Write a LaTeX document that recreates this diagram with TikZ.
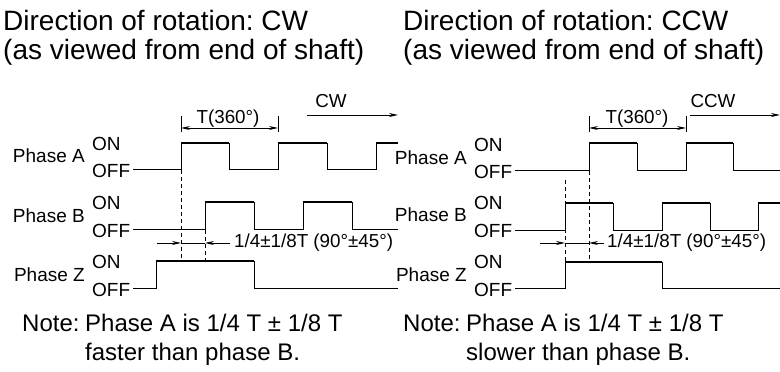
\documentclass[tikz,border=0pt]{standalone}
\usepackage{fontspec}
\setmainfont{Liberation Sans}
\usetikzlibrary{arrows.meta}
\frenchspacing
\tikzset{
  sig/.style={line width=1pt},
  hi/.style={line width=2.4pt},
  dsh/.style={line width=0.9pt, dash pattern=on 4pt off 3pt},
  dim/.style={line width=0.9pt},
  tip/.style={-{Stealth[length=9pt,width=4pt]}},
  lbl/.style={inner sep=0pt, font=\fontsize{19}{22}\selectfont},
  small/.style={inner sep=0pt, font=\fontsize{18.8}{21}\selectfont},
  ttl/.style={inner sep=0pt, font=\fontsize{28}{31}\selectfont},
  note/.style={inner sep=0pt, font=\fontsize{24}{30}\selectfont},
}
\begin{document}
\begin{tikzpicture}[x=1pt,y=1pt]
\useasboundingbox (0,0) rectangle (780,372);
% titles
\node[ttl,anchor=base west] (t1a) at (3,341) {Direction of rotation: CW};
\node[ttl,anchor=base west] (t1b) at (3,312) {(as viewed from end of shaft)};
\node[ttl,anchor=base west] (t2a) at (403,341) {Direction of rotation: CCW};
\node[ttl,anchor=base west] (t2b) at (403,312) {(as viewed from end of shaft)};

% ===== LEFT PANEL =====
\node[lbl,anchor=east] (lA) at (85,216) {Phase A};
\node[lbl,anchor=west] (lAon) at (92,228) {ON};
\node[lbl,anchor=west] (lAoff) at (92,201) {OFF};
\node[lbl,anchor=east] (lB) at (85,156) {Phase B};
\node[lbl,anchor=west] (lBon) at (92,169) {ON};
\node[lbl,anchor=west] (lBoff) at (92,141) {OFF};
\node[lbl,anchor=east] (lZ) at (85,97) {Phase Z};
\node[lbl,anchor=west] (lZon) at (92,110) {ON};
\node[lbl,anchor=west] (lZoff) at (92,82) {OFF};

% phase A
\draw[sig] (lAoff.east|-0,202) ++(3,0) -- (181,202) -- (181,229) (229,229) -- (229,202) -- (278,202) -- (278,229) (327,229) -- (327,202) -- (376,202) -- (376,229);
\draw[hi] (181,229) -- (229,229) (278,229) -- (327,229) (376,229) -- (398,229);
% phase B
\draw[sig] (lBoff.east|-0,142) ++(3,0) -- (205,142) -- (205,170) (254,170) -- (254,142) -- (303,142) -- (303,170) (352,170) -- (352,142) -- (398,142);
\draw[hi] (205,170) -- (254,170) (303,170) -- (352,170);
% phase Z
\draw[sig] (lZoff.east|-0,83) ++(3,0) -- (156,83) -- (156,111) (254,111) -- (254,83) -- (398,83);
\draw[hi] (156,111) -- (254,111);
% dashed
\draw[dsh] (181,202) -- (181,112);
\draw[dsh] (205,142) -- (205,112);
% phase difference
\coordinate (la1) at (157,129); \coordinate (la2) at (181,129);
\coordinate (lb1) at (230,129); \coordinate (lb2) at (205,129);
\draw[dim,tip] (la1) -- (la2);
\draw[dim,tip] (lb1) -- (lb2);
\draw[dim] (la2) -- (lb2);
\node[small,anchor=west] (lph) at (234,129) {1/4±1/8T (90°±45°)};
% period
\coordinate (lp1) at (181,244); \coordinate (lp2) at (278,244);
\draw[dim] (181,240) -- (181,256) (278,240) -- (278,256);
\draw[dim,{Stealth[length=9pt,width=4pt]}-{Stealth[length=9pt,width=4pt]}] (lp1) -- (lp2);
\node[small,anchor=base] (lT) at (228,248) {T(360°)};
% direction
\coordinate (lc1) at (307,257); \coordinate (lc2) at (398,257);
\draw[dim,tip] (lc1) -- (lc2);
\node[small,anchor=base] (lcw) at (331,264) {CW};

% ===== RIGHT PANEL =====
\node[lbl,anchor=east] (rA) at (467,214) {Phase A};
\node[lbl,anchor=west] (rAon) at (474,227) {ON};
\node[lbl,anchor=west] (rAoff) at (474,200) {OFF};
\node[lbl,anchor=east] (rB) at (467,157) {Phase B};
\node[lbl,anchor=west] (rBon) at (474,169) {ON};
\node[lbl,anchor=west] (rBoff) at (474,141) {OFF};
\node[lbl,anchor=east] (rZ) at (467,97) {Phase Z};
\node[lbl,anchor=west] (rZon) at (474,110) {ON};
\node[lbl,anchor=west] (rZoff) at (474,82) {OFF};

% phase A
\draw[sig] (rAoff.east|-0,201) ++(3,0) -- (589,201) -- (589,229) (637,229) -- (637,201) -- (686,201) -- (686,229) (733,229) -- (733,201) -- (780,201);
\draw[hi] (589,229) -- (637,229) (686,229) -- (733,229);
% phase B
\draw[sig] (rBoff.east|-0,141) ++(3,0) -- (565,141) -- (565,169) (613,169) -- (613,141) -- (662,141) -- (662,169) (710,169) -- (710,141) -- (758,141) -- (758,169);
\draw[hi] (565,169) -- (613,169) (662,169) -- (710,169) (758,169) -- (780,169);
% phase Z
\draw[sig] (rZoff.east|-0,83) ++(3,0) -- (565,83) -- (565,110) (662,110) -- (662,83) -- (780,83);
\draw[hi] (565,110) -- (662,110);
% dashed
\draw[dsh] (565,192) -- (565,110);
\draw[dsh] (589,201) -- (589,110);
% phase difference
\coordinate (ra1) at (540,129); \coordinate (ra2) at (565,129);
\coordinate (rb1) at (604,129); \coordinate (rb2) at (589,129);
\draw[dim,tip] (ra1) -- (ra2);
\draw[dim,tip] (rb1) -- (rb2);
\draw[dim] (ra2) -- (rb2);
\node[small,anchor=west] (rph) at (607,129) {1/4±1/8T (90°±45°)};
% period
\coordinate (rp1) at (589,244); \coordinate (rp2) at (686,244);
\draw[dim] (589,240) -- (589,256) (686,240) -- (686,256);
\draw[dim,{Stealth[length=9pt,width=4pt]}-{Stealth[length=9pt,width=4pt]}] (rp1) -- (rp2);
\node[small,anchor=base] (rT) at (637,248) {T(360°)};
% direction
\coordinate (rc1) at (690,257); \coordinate (rc2) at (780,257);
\draw[dim,tip] (rc1) -- (rc2);
\node[small,anchor=base] (rcw) at (713,264) {CCW};

% notes
\node[note,anchor=base west] (ln) at (22,40) {Note:};
\node[note,anchor=base west] (lnt1) at (85,40) {Phase A is 1/4 T ± 1/8 T};
\node[note,anchor=base west] (lnt2) at (85,11) {faster than phase B.};
\node[note,anchor=base west] (rn) at (403,40) {Note:};
\node[note,anchor=base west] (rnt1) at (466,40) {Phase A is 1/4 T ± 1/8 T};
\node[note,anchor=base west] (rnt2) at (466,11) {slower than phase B.};
\end{tikzpicture}
\end{document}
